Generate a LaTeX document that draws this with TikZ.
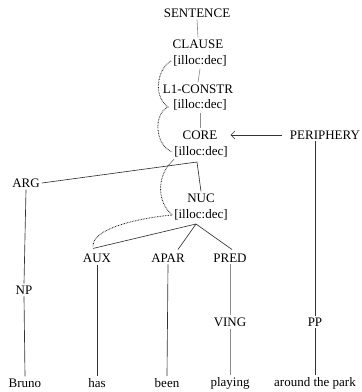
\documentclass[tikz,border=0pt]{standalone}
\usepackage{fontspec}
\setmainfont{Liberation Serif}
\usetikzlibrary{arrows.meta,calc}
\begin{document}
\begin{tikzpicture}[x=1pt,y=-1pt,
  lbl/.style={inner sep=2pt, font=\fontsize{13}{15}\selectfont, text=black},
  edge/.style={draw=black!80, line width=0.65pt},
  lite/.style={draw=black!45, line width=0.65pt},
  dots/.style={draw=black!85, line width=0.9pt, dash pattern=on 0.7pt off 0.9pt}]
\useasboundingbox (0,0) rectangle (362,392);
% spine
\node[lbl] (sent) at (197,13) {SENTENCE};
\node[lbl] (clause) at (198,44) {CLAUSE};
\node[lbl] (clauseI) at (200,61) {[illoc:dec]};
\node[lbl] (lone) at (198,89) {L1-CONSTR};
\node[lbl] (loneI) at (200,105) {[illoc:dec]};
\node[lbl] (core) at (200,135) {CORE};
\node[lbl] (coreI) at (201,152) {[illoc:dec]};
\node[lbl] (peri) at (325,135) {PERIPHERY};
\node[lbl] (arg) at (26,183) {ARG};
\node[lbl] (nuc) at (201,198) {NUC};
\node[lbl] (nucI) at (201,215) {[illoc:dec]};
\node[lbl] (aux) at (97,258) {AUX};
\node[lbl] (apar) at (168,258) {APAR};
\node[lbl] (pred) at (230,258) {PRED};
\node[lbl] (np) at (24,290) {NP};
\node[lbl] (ving) at (230,322) {VING};
\node[lbl] (pp) at (315,322) {PP};
\node[lbl] (bruno) at (25,383) {Bruno};
\node[lbl] (has) at (97,383) {has};
\node[lbl] (been) at (167,383) {been};
\node[lbl] (playing) at (230,383) {playing};
\node[lbl] (park) at (315,383) {around the park};
% junctions
\coordinate (j1) at (197,162);
\coordinate (j2) at (196,224);
% short vertical links
\draw[lite] (sent.south) -- (clause.north);
\draw[lite] (clauseI.south) -- (lone.north);
\draw[lite] (loneI.south) -- (core.north);
% periphery arrow
\draw[edge, -{Straight Barb[length=4pt,width=8pt]}, shorten >=11pt, shorten <=6pt] (peri.west) -- (core.east);
% core to arg and nuc
\draw[edge] (arg.east) -- (j1) -- (nuc.north);
% nuc to daughters
\draw[edge] (j2) -- ($(aux.north)+(-4,-3)$);
\draw[edge] (j2) -- ($(apar.north)+(10,-2)$);
\draw[edge] (j2) -- ($(pred.north)+(2,-2)$);
% verticals
\draw[edge] (arg.south) -- (np.north);
\draw[edge] (np.south) -- (bruno.north);
\draw[edge] (aux.south) -- (has.north);
\draw[edge] (apar.south) -- (been.north);
\draw[lite] (pred.south) -- (ving.north);
\draw[lite] (ving.south) -- (playing.north);
\draw[edge] (peri.south -| pp.north) -- (pp.north);
\draw[edge] (pp.south) -- (park.north);
% dotted operator links
\draw[dots] (clauseI.west) .. controls (158,68) and (152,95) .. (168,107)
  .. controls (153,114) and (155,145) .. (coreI.west);
\draw[dots] ($(coreI.south west)+(2,0)$) .. controls (158,172) and (155,200) .. (nucI.west);
\draw[dots] (nucI.west) .. controls (140,218) and (92,228) .. ($(aux.north)+(-4,-5)$);
\end{tikzpicture}
\end{document}
